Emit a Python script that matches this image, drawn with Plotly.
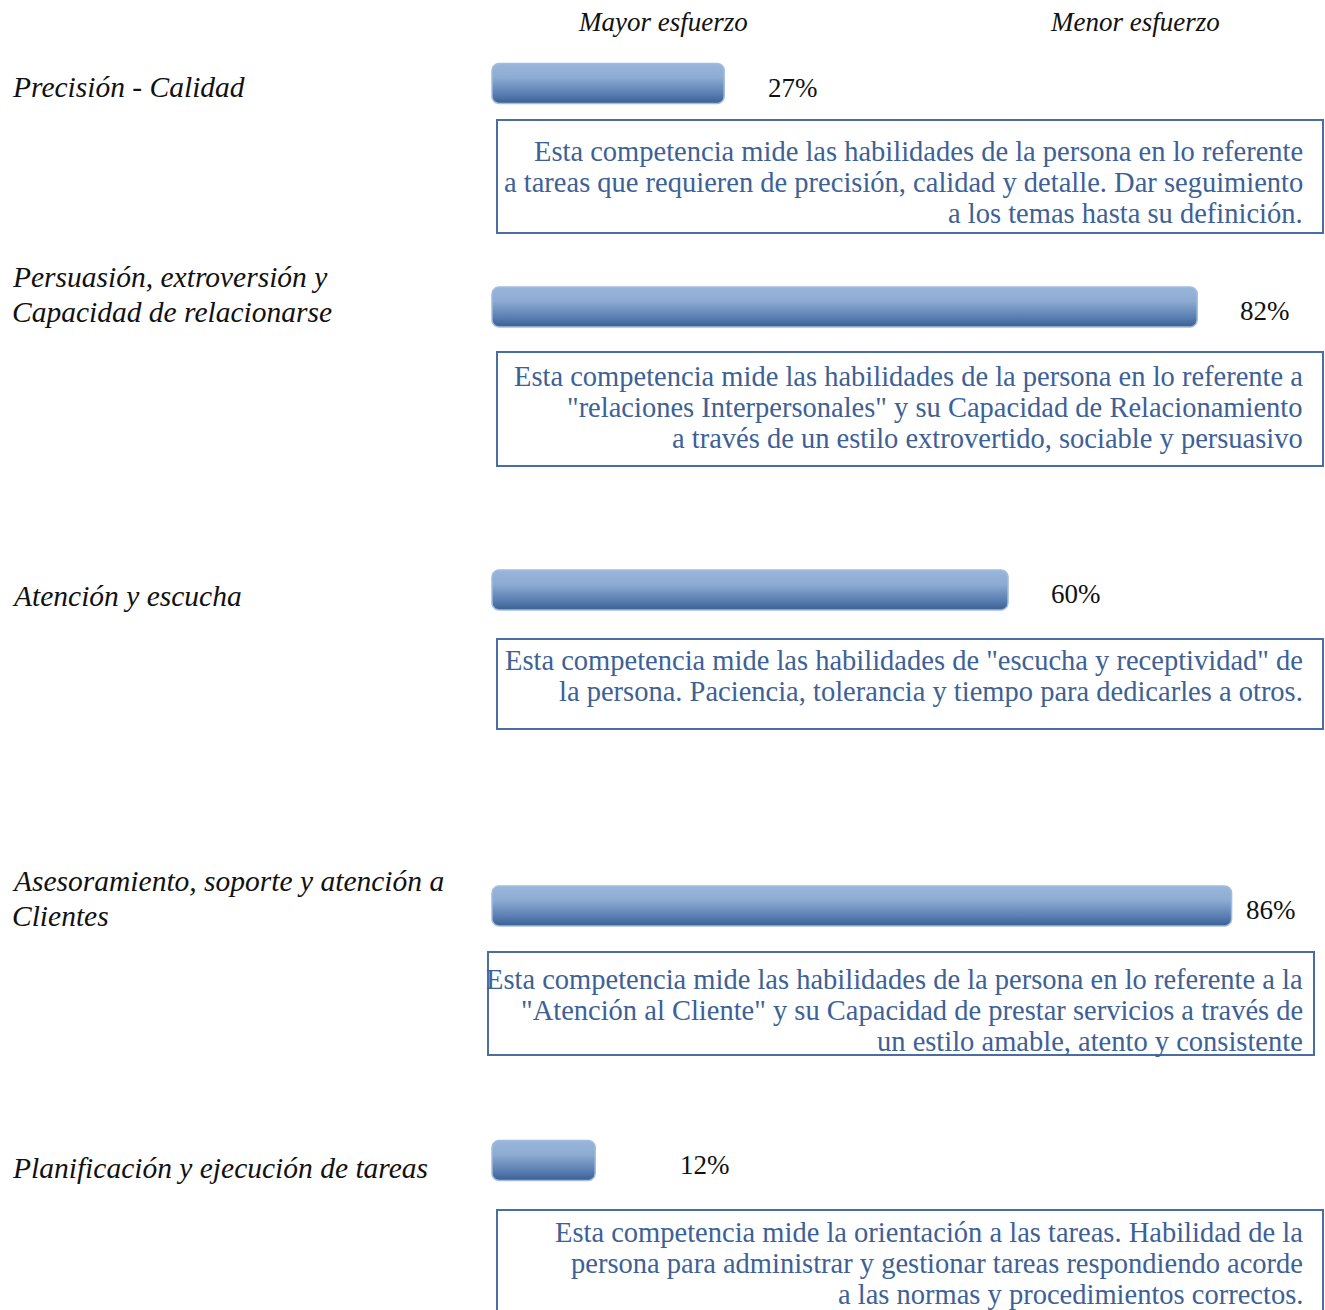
import numpy as np
import plotly.graph_objects as go

# ---- data ----
competencias = [
    "Precisión - Calidad",
    "Persuasión, extroversión y<br>Capacidad de relacionarse",
    "Atención y escucha",
    "Asesoramiento, soporte y atención a<br>Clientes",
    "Planificación y ejecución de tareas",
]
valores = [27, 82, 60, 86, 12]
descripciones = [
    "Esta competencia mide las habilidades de la persona en lo referente<br>"
    "a tareas que requieren de precisión, calidad y detalle. Dar seguimiento<br>"
    "a los temas hasta su definición.",
    "Esta competencia mide las habilidades de la persona en lo referente a<br>"
    "\"relaciones Interpersonales\" y su Capacidad de Relacionamiento<br>"
    "a través de un estilo extrovertido, sociable y persuasivo",
    "Esta competencia mide las habilidades de \"escucha y receptividad\" de<br>"
    "la persona. Paciencia, tolerancia y tiempo para dedicarles a otros.",
    "Esta competencia mide las habilidades de la persona en lo referente a la<br>"
    "\"Atención al Cliente\" y su Capacidad de prestar servicios a través de<br>"
    "un estilo amable, atento y consistente",
    "Esta competencia mide la orientación a las tareas. Habilidad de la<br>"
    "persona para administrar y gestionar tareas respondiendo acorde<br>"
    "a las normas y procedimientos correctos.",
]
encabezados = ["Mayor esfuerzo", "Menor esfuerzo"]

# ---- layout (pixel positions) ----
W, H = 1325, 1310
K = 8.6          # px per percent
X0 = 492         # px of 0%
bar_y = [83.5, 307, 590, 906, 1160.5]
bar_h = 40
label_first_y = [87, 277, 596, 881, 1168]
label_lh = 35
pct_gap = [44, 43, 43, 14, 85]
box_rects = [(497, 120, 1323, 233), (497, 352, 1323, 466), (497, 639, 1323, 729),
             (488, 952, 1314, 1055), (497, 1210, 1323, 1322)]
box_first_y = [151, 376, 660, 979, 1232]
box_lh = 31.2
head_x = [663, 1135]

SERIF = "Liberation Serif"
TXT_BLUE = "#3d6196"

def px(xp):
    return xp / W

fig = go.Figure()

r = 7.0
for v, yc in zip(valores, bar_y):
    x_end = v
    rx = r / K
    ry = r
    y_top, y_bot = yc - bar_h / 2, yc + bar_h / 2
    t = np.linspace(0, np.pi / 2, 8)
    xs, ys = [], []
    xs += list(0 + rx - rx * np.cos(t)); ys += list(y_top + ry - ry * np.sin(t))
    xs += list(x_end - rx + rx * np.sin(t)); ys += list(y_top + ry - ry * np.cos(t))
    xs += list(x_end - rx + rx * np.cos(t)); ys += list(y_bot - ry + ry * np.sin(t))
    xs += list(0 + rx - rx * np.sin(t)); ys += list(y_bot - ry + ry * np.cos(t))
    xs.append(xs[0]); ys.append(ys[0])
    fig.add_trace(go.Scatter(
        x=xs, y=ys, mode="lines", fill="toself",
        line=dict(color="#a3bcdd", width=1.5),
        fillgradient=dict(type="vertical", start=y_top, stop=y_bot,
                          colorscale=[[0, "#98b5da"], [0.35, "#8eacd3"],
                                      [0.75, "#5a7fb2"], [1, "#3b5f93"]]),
        hoverinfo="skip", showlegend=False,
    ))

for v, yc, g in zip(valores, bar_y, pct_gap):
    fig.add_annotation(x=v, y=yc + 4, xref="x", yref="y", text=f"{v}%",
                       showarrow=False, xanchor="left", yanchor="middle",
                       xshift=g - 2, font=dict(family=SERIF, size=27, color="#111111"))

for lab, ly in zip(competencias, label_first_y):
    for i, line in enumerate(lab.split("<br>")):
        fig.add_annotation(x=px(10), y=ly + i * label_lh, xref="paper", yref="y",
                           text=f"<i>{line}</i>", showarrow=False, align="left",
                           xanchor="left", yanchor="middle",
                           font=dict(family=SERIF, size=29.5, color="#111111"))

for h, hx in zip(encabezados, head_x):
    fig.add_annotation(x=px(hx), y=22, xref="paper", yref="y",
                       text=f"<i>{h}</i>", showarrow=False,
                       xanchor="center", yanchor="middle",
                       font=dict(family=SERIF, size=27, color="#111111"))

for (x0, y0, x1, y1) in box_rects:
    fig.add_shape(type="rect", xref="paper", yref="y",
                  x0=px(x0), x1=px(x1), y0=y0, y1=y1,
                  line=dict(color="#4a6ea3", width=2), fillcolor="rgba(0,0,0,0)")

for d, ty in zip(descripciones, box_first_y):
    for i, line in enumerate(d.split("<br>")):
        fig.add_annotation(x=px(1305), y=ty + i * box_lh, xref="paper", yref="y",
                           text=line, showarrow=False, align="right",
                           xanchor="right", yanchor="middle",
                           font=dict(family=SERIF, size=28.5, color=TXT_BLUE))

fig.update_layout(
    width=W, height=H, margin=dict(l=0, r=0, t=0, b=0),
    paper_bgcolor="white", plot_bgcolor="white",
    xaxis=dict(range=[-X0 / K, (W - X0) / K], visible=False, fixedrange=True),
    yaxis=dict(range=[H, 0], visible=False, fixedrange=True),
    showlegend=False,
)

fig.write_html("out.html")
